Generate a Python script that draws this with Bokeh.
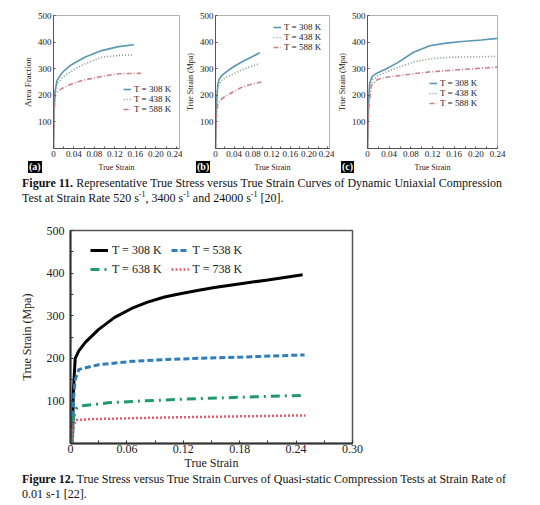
from bokeh.plotting import figure
from bokeh.models import Legend, LegendItem, Div, FixedTicker, Range1d
from bokeh.layouts import column, row
from bokeh.embed import file_html
from bokeh.resources import INLINE

SERIF = "Liberation Serif"

# ---------------- data ----------------
small_labels = ["T = 308 K", "T = 438 K", "T = 588 K"]
big_labels = ["T = 308 K", "T = 538 K", "T = 638 K", "T = 738 K"]
panel_tags = ["(a)", "(b)", "(c)"]

small_x_ticks = [0, 0.04, 0.08, 0.12, 0.16, 0.2, 0.24]
small_x_tick_labels = ["0", "0.04", "0.08", "0.12", "0.16", "0.20", "0.24"]
small_x_minor = [0.02, 0.06, 0.1, 0.14, 0.18, 0.22]
small_y_ticks = [0, 100, 200, 300, 400, 500]
small_y_tick_labels = ["", "100", "200", "300", "400", "500"]

big_x_ticks = [0, 0.06, 0.12, 0.18, 0.24, 0.3]
big_x_tick_labels = ["0", "0.06", "0.12", "0.18", "0.24", "0.30"]
big_x_minor = [0.03, 0.09, 0.15, 0.21, 0.27]
big_y_ticks = [0, 100, 200, 300, 400, 500]
big_y_tick_labels = ["", "100", "200", "300", "400", "500"]
big_y_minor = [50, 150, 250, 350, 450]

# panel (a)  strain rate 520 /s
a_strain_308 = [0, 0.001, 0.003, 0.007, 0.014, 0.021, 0.035, 0.061, 0.094, 0.127, 0.157]
a_stress_308 = [0, 150, 215, 256, 278, 293, 315, 343, 368, 383, 390]
a_strain_438 = [0, 0.001, 0.003, 0.007, 0.015, 0.027, 0.045, 0.061, 0.094, 0.127, 0.157]
a_stress_438 = [0, 140, 200, 243, 262, 281, 302, 318, 343, 350, 352]
a_strain_588 = [0, 0.001, 0.004, 0.01, 0.021, 0.04, 0.061, 0.094, 0.127, 0.171]
a_stress_588 = [0, 140, 205, 218, 230, 246, 258, 271, 281, 283]

# panel (b)  strain rate 3400 /s
b_strain_308 = [0, 0.002, 0.005, 0.008, 0.015, 0.029, 0.043, 0.057, 0.075, 0.095]
b_stress_308 = [0, 170, 243, 262, 277, 296, 312, 326, 342, 360]
b_strain_438 = [0, 0.002, 0.005, 0.012, 0.022, 0.04, 0.057, 0.075, 0.091]
b_stress_438 = [0, 160, 231, 255, 267, 282, 296, 308, 317]
b_strain_588 = [0, 0.002, 0.005, 0.015, 0.03, 0.057, 0.08, 0.098]
b_stress_588 = [0, 120, 171, 189, 205, 231, 243, 250]

# panel (c)  strain rate 24000 /s
c_strain_308 = [0, 0.002, 0.004, 0.009, 0.019, 0.035, 0.055, 0.085, 0.115, 0.145, 0.175, 0.21, 0.24]
c_stress_308 = [0, 180, 246, 272, 285, 300, 322, 362, 386, 396, 402, 408, 414]
c_strain_438 = [0, 0.002, 0.005, 0.01, 0.019, 0.035, 0.055, 0.085, 0.115, 0.145, 0.175, 0.24]
c_stress_438 = [0, 170, 235, 258, 273, 288, 304, 325, 337, 342, 344, 346]
c_strain_588 = [0, 0.002, 0.007, 0.019, 0.035, 0.055, 0.085, 0.115, 0.175, 0.24]
c_stress_588 = [0, 150, 236, 260, 268, 273, 281, 288, 297, 306]

# Figure 12  quasi-static 0.01 /s
q_strain_308 = [0.002, 0.003, 0.005, 0.009, 0.016, 0.03, 0.047, 0.065, 0.082, 0.1, 0.118, 0.135, 0.153, 0.181, 0.21, 0.247]
q_stress_308 = [0, 120, 200, 218, 238, 268, 296, 317, 332, 344, 352, 359, 366, 375, 384, 396]
q_strain_538 = [0.002, 0.003, 0.005, 0.009, 0.03, 0.066, 0.101, 0.136, 0.183, 0.249]
q_stress_538 = [0, 100, 150, 174, 185, 193, 197, 200, 203, 208]
q_strain_638 = [0.002, 0.003, 0.006, 0.011, 0.042, 0.077, 0.12, 0.16, 0.2, 0.246]
q_stress_638 = [0, 60, 82, 88, 96, 100, 104, 107, 110, 113]
q_strain_738 = [0.002, 0.003, 0.006, 0.02, 0.077, 0.13, 0.19, 0.25]
q_stress_738 = [0, 40, 55, 57, 60, 62, 64, 66]

caption11 = ("<b>Figure 11.</b> Representative True Stress versus True Strain Curves of Dynamic Uniaxial Compression<br>"
             "Test at Strain Rate 520 s<sup>-1</sup>, 3400 s<sup>-1</sup> and 24000 s<sup>-1</sup> [20].")
caption12 = ("<b>Figure 12.</b> True Stress versus True Strain Curves of Quasi-static Compression Tests at Strain Rate of<br>"
             "0.01 s-1 [22].")

# ---------------- styling helpers ----------------
SMALL_COLORS = ["#5b96b3", "#7f9a84", "#c8838a"]
SMALL_DASH = ["solid", "1 2", "5 2 1 2"]


def style_axes(p, xt, xl, xm, yt, yl, ym, tick_size, lab_size_x, lab_size_y,
               axis_color, axis_w, tick_in, xstand, ystand, xlabstand, ylabstand):
    p.xgrid.visible = False
    p.ygrid.visible = False
    p.xaxis.ticker = FixedTicker(ticks=xt, minor_ticks=xm)
    p.yaxis.ticker = FixedTicker(ticks=yt, minor_ticks=ym)
    p.xaxis.major_label_overrides = {t: l for t, l in zip(xt, xl)}
    p.yaxis.major_label_overrides = {t: l for t, l in zip(yt, yl)}
    for ax in (p.xaxis, p.yaxis):
        ax.axis_line_color = axis_color
        ax.axis_line_width = axis_w
        ax.major_tick_in = tick_in
        ax.major_tick_out = 0
        ax.minor_tick_in = tick_in
        ax.minor_tick_out = 0
        ax.major_tick_line_color = axis_color
        ax.minor_tick_line_color = axis_color
        ax.major_label_text_font = SERIF
        ax.major_label_text_font_size = tick_size
        ax.major_label_text_color = "#1a1a1a"
        ax.axis_label_text_font = SERIF
        ax.axis_label_text_font_style = "normal"
        ax.axis_label_text_color = "#1a1a1a"
    p.xaxis.axis_label_text_font_size = lab_size_x
    p.yaxis.axis_label_text_font_size = lab_size_y
    p.xaxis.major_label_standoff = xstand
    p.yaxis.major_label_standoff = ystand
    p.xaxis.axis_label_standoff = xlabstand
    p.yaxis.axis_label_standoff = ylabstand


def add_legend(p, rends, labels, loc, font_size, gw, gh, standoff, orientation="vertical", spacing=0):
    lg = Legend(items=[LegendItem(label=l, renderers=[r]) for l, r in zip(labels, rends)],
                location=loc, orientation=orientation)
    lg.label_text_font = SERIF
    lg.label_text_font_size = font_size
    lg.label_text_color = "#1a1a1a"
    lg.glyph_width = gw
    lg.glyph_height = gh
    lg.label_height = gh
    lg.label_width = 10
    lg.label_standoff = standoff
    lg.spacing = spacing
    lg.padding = 0
    lg.margin = 0
    lg.background_fill_alpha = 0
    lg.border_line_alpha = 0
    p.add_layout(lg)


def small_panel(width, left, right, top, xmax, ylabel, ylab_size, series, leg_loc):
    p = figure(width=width, height=176, x_range=Range1d(0, xmax), y_range=Range1d(0, 500),
               output_backend="svg", toolbar_location=None,
               min_border_left=left, min_border_right=right, min_border_top=top, min_border_bottom=28)
    p.background_fill_color = "white"
    p.border_fill_color = "white"
    p.outline_line_color = "#b0b0b0"
    p.outline_line_width = 1
    p.xaxis.axis_label = "True Strain"
    p.yaxis.axis_label = ylabel
    style_axes(p, small_x_ticks, small_x_tick_labels, small_x_minor,
               small_y_ticks, small_y_tick_labels, [], "9px", "8px", ylab_size,
               "#555555", 1, 2, 2, 2, 3, 2)
    rends = []
    for (xs, ys), col, dash in zip(series, SMALL_COLORS, SMALL_DASH):
        r = p.line(xs, ys, line_color=col, line_width=1.6, line_dash=dash)
        rends.append(r)
    add_legend(p, rends, small_labels, leg_loc, "9px", 8, 10, 3)
    return p


pa = small_panel(182, 53, 3, 15, 0.246, "Area Fraction", "9px",
                 [(a_strain_308, a_stress_308), (a_strain_438, a_stress_438), (a_strain_588, a_stress_588)],
                 (70, 34))
pb = small_panel(152, 29, 5, 8, 0.244, "True Strain (Mpa)", "8px",
                 [(b_strain_308, b_stress_308), (b_strain_438, b_stress_438), (b_strain_588, b_stress_588)],
                 (58, 96))
pc = small_panel(206, 29, 43, 13, 0.24, "True Strain (Mpa)", "8px",
                 [(c_strain_308, c_stress_308), (c_strain_438, c_stress_438), (c_strain_588, c_stress_588)],
                 (62, 40))

# ---------------- big figure ----------------
pq = figure(width=540, height=262, x_range=Range1d(0, 0.3), y_range=Range1d(0, 500),
            output_backend="svg", toolbar_location=None,
            min_border_left=70, min_border_right=188, min_border_top=20, min_border_bottom=29)
pq.background_fill_color = "white"
pq.border_fill_color = "white"
pq.outline_line_color = "#555555"
pq.outline_line_width = 1.5
pq.xaxis.axis_label = "True Strain"
pq.yaxis.axis_label = "True Strain (Mpa)"
style_axes(pq, big_x_ticks, big_x_tick_labels, big_x_minor,
           big_y_ticks, big_y_tick_labels, big_y_minor, "12px", "12px", "12px",
           "#333333", 2, 3, 1, 6, 0, 10)

r1 = pq.line(q_strain_308, q_stress_308, line_color="black", line_width=3)
r2 = pq.line(q_strain_538, q_stress_538, line_color="#2f7ebc", line_width=3, line_dash="6 3")
r3 = pq.line(q_strain_638, q_stress_638, line_color="#22996a", line_width=3, line_dash="9 5 2 5")
r4 = pq.line(q_strain_738, q_stress_738, line_color="#e05a6a", line_width=2.5, line_dash="2 2")
add_legend(pq, [r1, r2], big_labels[:2], (20, 185), "12px", 18, 16, 4, "horizontal", 9)
add_legend(pq, [r3, r4], big_labels[2:], (20, 166), "12px", 18, 16, 4, "horizontal", 9)

# ---------------- captions (and panel tags, lifted over the panel row) ----------------
cap_style = ("font-family:'Liberation Serif';font-size:12px;line-height:15px;"
             "padding-left:22px;white-space:nowrap;color:#111;")
tag_style = ("position:absolute;top:0px;height:12px;line-height:12px;padding:0 1px;"
             "background:#000;color:#fff;font-family:'Liberation Serif';font-size:10px;"
             "font-weight:bold;")
tag_left = [28, 196, 341]
tags_html = "".join(f"<span style=\"{tag_style}left:{x}px;\">{t}</span>"
                    for t, x in zip(panel_tags, tag_left))
sup_fix = caption11.replace("<sup>", "<sup style='font-size:8px;line-height:0'>")
d11 = Div(text=(f"<div style=\"position:relative;width:540px;height:49px;\">{tags_html}"
                f"<div style=\"position:absolute;top:15px;left:0;{cap_style}\">{sup_fix}</div></div>"),
          width=540, height=49, margin=(-15, 0, 0, 0))
d12 = Div(text=f"<div style=\"{cap_style}\">{caption12}</div>", width=540, height=33, margin=0)

layout = column(row(pa, pb, pc, spacing=0), d11, pq, d12, spacing=0)

open("out.html", "w").write(file_html(layout, INLINE))
